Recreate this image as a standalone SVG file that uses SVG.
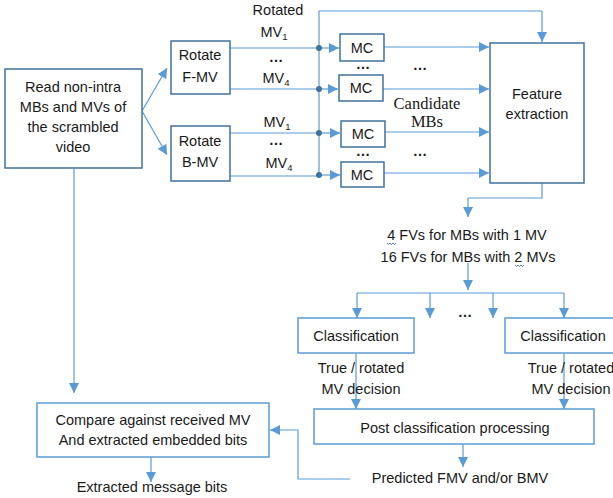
<svg xmlns="http://www.w3.org/2000/svg" width="613" height="498" viewBox="0 0 613 498">
<style>
text{font-family:"Liberation Sans",Arial,sans-serif;font-size:14.5px;fill:#1a1a1a;text-anchor:middle}
.serif{font-family:"Liberation Serif","Times New Roman",serif;font-size:16.5px}
.sub{font-size:9.5px}
.dk{fill:#fff;stroke:#41719C;stroke-width:1.5}
.lt{fill:#fff;stroke:#5B9BD5;stroke-width:1.5}
.c{fill:none;stroke:#5B9BD5;stroke-width:1.2}
.a{marker-end:url(#ah)}
.dot{fill:#41719C}
.wavy{fill:none;stroke:#3355cc;stroke-width:0.8}
</style>
<defs>
<marker id="ah" markerUnits="userSpaceOnUse" markerWidth="10" markerHeight="10" refX="10" refY="5" orient="auto" viewBox="0 0 10 10">
<path d="M0,0 L10,5 L0,10 z" fill="#5B9BD5"/>
</marker>
</defs>
<rect width="613" height="498" fill="#fff"/>

<g id="connectors">
<path class="c a" d="M142,111 L167,68"/>
<path class="c a" d="M142,111 L167,155"/>
<path class="c" d="M230,48 H319 M230,89 H319 M230,133 H319 M230,176 H319"/>
<path class="c" d="M319,176 V11 H542"/>
<path class="c a" d="M542,11 V42"/>
<path class="c a" d="M319,48 H339"/>
<path class="c a" d="M319,89 H338"/>
<path class="c a" d="M319,133 H340"/>
<path class="c a" d="M319,175 H340"/>
<path class="c a" d="M384,47 H489"/>
<path class="c a" d="M383,89 H489"/>
<path class="c a" d="M385,132 H489"/>
<path class="c a" d="M384,173 H489"/>
<path class="c" d="M542,183 V198 H468"/>
<path class="c a" d="M468,198 V217"/>
<path class="c a" d="M468,263 V290"/>
<path class="c" d="M357,293 H564"/>
<path class="c a" d="M357,293 V318"/>
<path class="c a" d="M430,293 V318"/>
<path class="c a" d="M493,293 V318"/>
<path class="c a" d="M564,293 V318"/>
<path class="c a" d="M356,354 V409"/>
<path class="c a" d="M564,354 V409"/>
<path class="c a" d="M463,444 V467"/>
<path class="c a" d="M350,479 H298 V430 H270"/>
<path class="c a" d="M74,169 V393"/>
<path class="c a" d="M151,457 V482"/>
<circle class="dot" cx="319" cy="48" r="3"/>
<circle class="dot" cx="319" cy="89" r="3"/>
<circle class="dot" cx="319" cy="133" r="3"/>
<circle class="dot" cx="319" cy="175" r="3"/>
</g>

<g id="read">
<rect class="dk" x="5" y="69" width="137" height="99"/>
<text x="73" y="92">Read non-intra</text>
<text x="73" y="112">MBs and MVs of</text>
<text x="73" y="132">the scrambled</text>
<text x="73" y="152">video</text>
</g>

<g id="rotate-f">
<rect class="dk" x="171" y="41" width="59" height="53"/>
<text x="200" y="60">Rotate</text>
<text x="200" y="82">F-MV</text>
</g>

<g id="rotate-b">
<rect class="dk" x="171" y="126" width="59" height="55"/>
<text x="200" y="146">Rotate</text>
<text x="200" y="167">B-MV</text>
</g>

<g id="mv-labels">
<text x="278" y="15">Rotated</text>
<text x="274" y="37">MV<tspan class="sub" dy="3">1</tspan></text>
<text x="276" y="62" font-weight="bold">…</text>
<text x="276" y="83">MV<tspan class="sub" dy="3">4</tspan></text>
<text x="277" y="127">MV<tspan class="sub" dy="3">1</tspan></text>
<text x="276" y="145" font-weight="bold">…</text>
<text x="279" y="168">MV<tspan class="sub" dy="3">4</tspan></text>
</g>

<g id="mc1">
<rect class="dk" x="340" y="34" width="44" height="27"/>
<text x="362" y="53">MC</text>
</g>
<g id="mc2">
<rect class="dk" x="339" y="75" width="44" height="26"/>
<text x="361" y="93">MC</text>
</g>
<g id="mc3">
<rect class="dk" x="341" y="121" width="44" height="26"/>
<text x="363" y="139">MC</text>
</g>
<g id="mc4">
<rect class="dk" x="341" y="162" width="43" height="25"/>
<text x="362" y="180">MC</text>
</g>

<g id="dots-mc">
<text x="363" y="69" font-weight="bold">…</text>
<text x="420" y="70" font-weight="bold">…</text>
<text x="363" y="156" font-weight="bold">…</text>
<text x="420" y="156" font-weight="bold">…</text>
<text class="serif" x="427" y="109">Candidate</text>
<text class="serif" x="427" y="127">MBs</text>
</g>

<g id="feature">
<rect class="dk" x="490" y="43" width="94" height="140"/>
<text x="537" y="99">Feature</text>
<text x="537" y="119">extraction</text>
</g>

<g id="fvs">
<text x="467" y="240">4 FVs for MBs with 1 MV</text>
<text x="468" y="262">16 FVs for MBs with 2 MVs</text>
<path class="wavy" d="M387,243 l1.5,1.5 l1.5,-1.5 l1.5,1.5 l1.5,-1.5 l1.5,1.5 l1.5,-1.5"/>
<path class="wavy" d="M515,265 l1.5,1.5 l1.5,-1.5 l1.5,1.5 l1.5,-1.5 l1.5,1.5 l1.5,-1.5"/>
<text x="465" y="317" font-weight="bold">…</text>
</g>

<g id="class-left">
<rect class="lt" x="298" y="318" width="116" height="35"/>
<text x="356" y="341">Classification</text>
<text x="361" y="373">True / rotated</text>
<text x="361" y="394">MV decision</text>
</g>

<g id="class-right">
<rect class="lt" x="505" y="318" width="118" height="35"/>
<text x="563" y="341">Classification</text>
<text x="571" y="373">True / rotated</text>
<text x="571" y="394">MV decision</text>
</g>

<g id="post">
<rect class="lt" x="314" y="409" width="280" height="35"/>
<text x="455" y="433">Post classification processing</text>
</g>

<g id="predicted">
<text x="460" y="483">Predicted FMV and/or BMV</text>
</g>

<g id="compare">
<rect class="lt" x="37" y="403" width="232" height="54"/>
<text x="153" y="425">Compare against received MV</text>
<text x="153" y="445">And extracted embedded bits</text>
</g>

<g id="extracted">
<text x="152" y="492">Extracted message bits</text>
</g>
</svg>
